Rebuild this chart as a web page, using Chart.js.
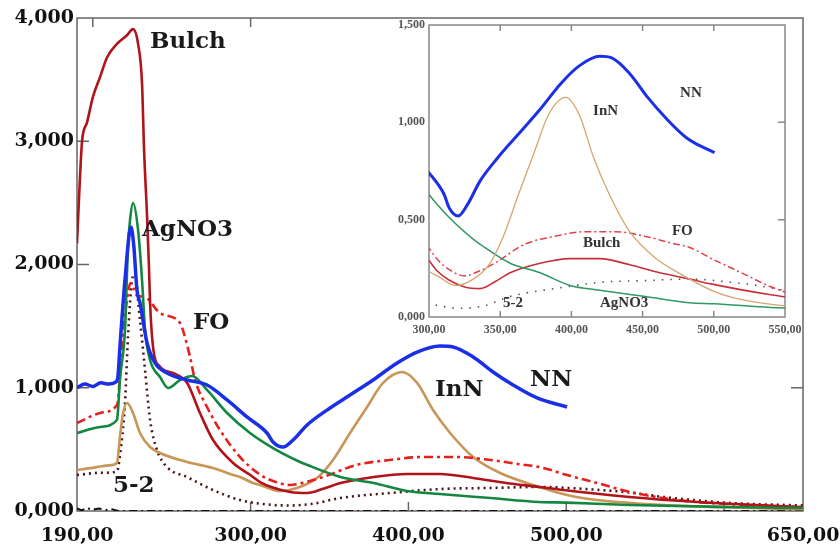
<!DOCTYPE html>
<html><head><meta charset="utf-8">
<script src="https://cdn.jsdelivr.net/npm/chart.js@4.4.1/dist/chart.umd.min.js"></script>
<style>
html,body{margin:0;padding:0;background:#fff;}
#wrap{position:relative;width:840px;height:549px;overflow:hidden;background:#fff;}
#main{position:absolute;left:0;top:0;}
#inset{position:absolute;left:385px;top:18px;}
</style></head><body>
<div id="wrap">
<canvas id="main" width="840" height="549"></canvas>
<canvas id="inset" width="430" height="326"></canvas>
</div>
<script>
// ---- tick values / labels ----
const xTickValues = [190, 300, 400, 500, 650];
const xTickLabels = ['190,00', '300,00', '400,00', '500,00', '650,00'];
const yTickValues = [0, 1000, 2000, 3000, 4000];
const yTickLabels = ['0,000', '1,000', '2,000', '3,000', '4,000'];
const insetXTickValues = [300, 350, 400, 450, 500, 550];
const insetXTickLabels = ['300,00', '350,00', '400,00', '450,00', '500,00', '550,00'];
const insetYTickValues = [0, 500, 1000, 1500];
const insetYTickLabels = ['0,000', '0,500', '1,000', '1,500'];

// ---- series (wavelength, absorbance x1000) ----
const bulchX = [190, 191.5, 193.2, 196.3, 200.1, 204.6, 209, 215.3, 221.7, 225.5, 228.7, 231.2, 232.5, 234.4, 235.6, 236.3, 238.2, 242.6, 250.8, 259.7, 267.9, 276.2, 288.9, 300, 306, 314, 325, 336, 346, 357, 378, 399, 420, 441, 462, 483, 498, 540, 583, 650];
const bulchY = [2170, 2600, 3000, 3150, 3360, 3520, 3680, 3790, 3860, 3910, 3790, 3470, 2930, 2390, 1980, 1690, 1330, 1170, 1120, 1040, 795, 576, 390, 290, 235, 190, 154, 146, 180, 227, 276, 300, 300, 268, 227, 195, 170, 114, 73, 30];

const agX = [190, 204.6, 215.3, 216, 217.2, 220.4, 222.3, 223.6, 225.5, 228.7, 231.2, 233.1, 236.3, 242.6, 247.7, 255.3, 262.9, 272.4, 285.1, 299.6, 314.2, 331, 336, 357, 378, 399, 420, 452, 483, 500, 540, 604, 650];
const agY = [633, 682, 738, 819, 1063, 1469, 2142, 2360, 2499, 2280, 1874, 1469, 1225, 1087, 998, 1063, 1095, 982, 795, 633, 511, 400, 373, 276, 227, 162, 138, 105, 73, 68, 49, 32, 24];

const nnX = [190, 195, 200, 205, 210, 215, 216, 217.2, 220.4, 224.2, 226, 228, 229.9, 234.4, 239.4, 247, 259.7, 272.4, 285.1, 297.7, 310.4, 314.2, 320.5, 326.9, 335.8, 348.4, 363, 377.6, 392.8, 405.5, 420, 428.3, 441, 453.6, 466.3, 481.5, 500.5];
const nnY = [1000, 1030, 1010, 1040, 1030, 1050, 1100, 1330, 1874, 2304, 2150, 1793, 1688, 1363, 1201, 1120, 1063, 1022, 901, 763, 633, 560, 519, 576, 698, 819, 941, 1063, 1201, 1290, 1339, 1331, 1250, 1128, 1022, 917, 844];

const foX = [190, 204.6, 215.3, 216, 218, 221, 224, 226, 228, 233.1, 242.6, 255.3, 258.4, 261.6, 264.8, 272.4, 280.6, 293.3, 306, 315, 325, 335, 346, 367, 388, 409, 431, 452, 470, 483, 500.5, 519.5, 540.4, 561.4, 582.9, 614.6, 650];
const foY = [714, 795, 860, 900, 1250, 1650, 1850, 1800, 1750, 1736, 1606, 1525, 1412, 1250, 1063, 844, 657, 438, 295, 240, 211, 235, 276, 373, 414, 438, 438, 414, 380, 357, 292, 227, 154, 105, 73, 49, 30];

const innX = [190, 200, 210, 215.3, 217.2, 219, 221.7, 225.5, 229.9, 236.3, 242.6, 259.7, 276.2, 288.9, 293.3, 301.5, 306, 318.6, 329.4, 342.1, 352.2, 363, 373.8, 383.9, 396, 405.5, 415.6, 426.4, 441, 458.1, 479, 500.5, 519.5, 561.4, 600, 650];
const innY = [333, 350, 370, 390, 600, 780, 876, 795, 633, 519, 471, 398, 349, 292, 276, 227, 211, 162, 187, 268, 414, 633, 844, 1039, 1128, 1039, 819, 633, 438, 308, 211, 130, 89, 49, 30, 15];

const fiveX = [190, 205, 215.3, 217.2, 220.4, 222.3, 224.9, 226.5, 229.9, 233.1, 236.3, 240.7, 247, 259.7, 276.2, 293.3, 314.2, 325, 340, 356.7, 388.4, 420, 451.7, 483.4, 510, 540.4, 561.4, 603.8, 650];
const fiveY = [292, 310, 320, 450, 876, 1412, 1874, 1920, 1550, 1144, 738, 495, 357, 276, 170, 89, 49, 45, 60, 105, 146, 178, 187, 195, 180, 150, 114, 65, 45];

const baseX = [190, 193, 196, 200, 204, 208, 212, 216, 650];
const baseY = [20, 5, 25, 10, 20, 8, 15, 0, 0];

// ---- label texts ----
const mainNotes = [
  {text: 'Bulch', x: 236.3, y: 3757},
  {text: 'AgNO3', x: 231.2, y: 2231},
  {text: 'FO', x: 263.5, y: 1477},
  {text: '5-2', x: 212.8, y: 154},
  {text: 'InN', x: 416.9, y: 933},
  {text: 'NN', x: 477.1, y: 1014}
];
const insetNotes = [
  {text: 'NN', x: 476.3, y: 1130},
  {text: 'InN', x: 415.2, y: 1037},
  {text: 'FO', x: 470.6, y: 421},
  {text: 'Bulch', x: 408.1, y: 360},
  {text: '5-2', x: 352, y: 51},
  {text: 'AgNO3', x: 420.1, y: 51}
];

const pts = (xs, ys) => xs.map((x, i) => ({x: x, y: ys[i]}));
function ds(label, xs, ys, st) {
  return Object.assign({label: label, data: pts(xs, ys), fill: false, pointRadius: 0,
    cubicInterpolationMode: 'monotone', borderJoinStyle: 'round'}, st);
}

const framePlugin = {
  id: 'frame',
  beforeDatasetsDraw(chart, args, o) {
    const {ctx, chartArea: a, scales} = chart;
    ctx.save();
    ctx.strokeStyle = o.color; ctx.lineWidth = o.width;
    ctx.strokeRect(a.left, a.top, a.right - a.left, a.bottom - a.top);
    ctx.beginPath();
    (o.bottom || []).forEach(v => { const p = scales.x.getPixelForValue(v); ctx.moveTo(p, a.bottom); ctx.lineTo(p, a.bottom - o.lenX); });
    (o.top || []).forEach(v => { const p = scales.x.getPixelForValue(v); ctx.moveTo(p, a.top); ctx.lineTo(p, a.top + o.lenX); });
    (o.left || []).forEach(v => { const p = scales.y.getPixelForValue(v); ctx.moveTo(a.left, p); ctx.lineTo(a.left + o.lenY, p); });
    (o.right || []).forEach(v => { const p = scales.y.getPixelForValue(v); ctx.moveTo(a.right, p); ctx.lineTo(a.right - o.lenY, p); });
    ctx.stroke();
    ctx.restore();
  }
};
const notePlugin = {
  id: 'notes',
  afterDatasetsDraw(chart, args, o) {
    const {ctx, scales} = chart;
    ctx.save();
    ctx.font = o.font; ctx.fillStyle = o.color;
    ctx.textAlign = 'left'; ctx.textBaseline = 'alphabetic';
    o.items.forEach(n => ctx.fillText(n.text, scales.x.getPixelForValue(n.x), scales.y.getPixelForValue(n.y)));
    ctx.restore();
  }
};

function noPad(s) { s.paddingLeft = 0; s.paddingRight = 0; s.paddingTop = 0; s.paddingBottom = 0; }

function makeScales(xmin, xmax, ymin, ymax, xv, xl, yv, yl, xh, yw, xpad, ypad, font, color) {
  return {
    x: {type: 'linear', min: xmin, max: xmax,
      afterBuildTicks: s => { s.ticks = xv.map(v => ({value: v})); },
      afterFit: s => { s.height = xh; noPad(s); },
      grid: {display: false, drawTicks: false}, border: {display: false},
      ticks: {autoSkip: false, maxRotation: 0, minRotation: 0, padding: xpad, color: color, font: font,
        callback: v => xl[xv.indexOf(v)]}},
    y: {type: 'linear', min: ymin, max: ymax,
      afterBuildTicks: s => { s.ticks = yv.map(v => ({value: v})); },
      afterFit: s => { s.width = yw; noPad(s); },
      grid: {display: false, drawTicks: false}, border: {display: false},
      ticks: {padding: ypad, color: color, font: font,
        callback: v => yl[yv.indexOf(v)]}}
  };
}

new Chart(document.getElementById('main'), {
  type: 'line',
  data: {datasets: [
    ds('NN', nnX, nnY, {borderColor: '#1b2fe6', borderWidth: 3.5}),
    ds('AgNO3', agX, agY, {borderColor: '#13873f', borderWidth: 2.6}),
    ds('Bulch', bulchX, bulchY, {borderColor: '#b0141a', borderWidth: 2.6}),
    ds('FO', foX, foY, {borderColor: '#e5211d', borderWidth: 2.6, borderDash: [9, 4, 3, 4]}),
    ds('InN', innX, innY, {borderColor: '#c99558', borderWidth: 2.6}),
    ds('5-2', fiveX, fiveY, {borderColor: '#4a1212', borderWidth: 2.6, borderDash: [2, 4]}),
    ds('base', baseX, baseY, {borderColor: '#111', borderWidth: 2, borderDash: [8, 4, 2, 4], cubicInterpolationMode: 'default', tension: 0})
  ]},
  options: {
    responsive: false, animation: false, devicePixelRatio: 1,
    layout: {padding: {left: 0, right: 37, top: 18, bottom: 0}},
    plugins: {legend: {display: false}, tooltip: {enabled: false},
      frame: {color: '#666', width: 1.5, lenX: 9, lenY: 12, bottom: [300, 400, 500, 600], top: [200, 300], left: [1000, 2000, 3000], right: [1000]},
      notes: {font: 'bold 23px "DejaVu Serif"', color: '#1a1a1a', items: mainNotes}},
    scales: makeScales(190, 650, 0, 4000, xTickValues, xTickLabels, yTickValues, yTickLabels, 38, 77, 14, 3,
      {family: 'DejaVu Serif', weight: 'bold', size: 19}, '#111')
  },
  plugins: [framePlugin, notePlugin]
});

new Chart(document.getElementById('inset'), {
  type: 'line',
  data: {datasets: [
    ds('NN', nnX, nnY, {borderColor: '#1b2fe6', borderWidth: 3}),
    ds('InN', innX, innY, {borderColor: '#d6a46e', borderWidth: 1.3}),
    ds('AgNO3', agX, agY, {borderColor: '#2d9a62', borderWidth: 1.5}),
    ds('Bulch', bulchX, bulchY, {borderColor: '#c7303a', borderWidth: 1.6}),
    ds('FO', foX, foY, {borderColor: '#e2404a', borderWidth: 1.5, borderDash: [7, 3, 2, 3]}),
    ds('5-2', fiveX, fiveY, {borderColor: '#6a4a4a', borderWidth: 1.6, borderDash: [1.5, 7]})
  ]},
  options: {
    responsive: false, animation: false, devicePixelRatio: 1,
    layout: {padding: {left: 0, right: 30, top: 7, bottom: 0}},
    plugins: {legend: {display: false}, tooltip: {enabled: false},
      frame: {color: '#888', width: 1.5, lenX: 6, lenY: 7, bottom: [350, 400, 450, 500], top: [350, 400, 450, 500], right: [500, 1000]},
      notes: {font: 'bold 15px "Liberation Serif"', color: '#333', items: insetNotes}},
    scales: makeScales(300, 550, 0, 1500, insetXTickValues, insetXTickLabels, insetYTickValues, insetYTickLabels, 27, 44, 6, 4,
      {family: 'Liberation Serif', weight: 'bold', size: 12}, '#555')
  },
  plugins: [framePlugin, notePlugin]
});
</script>
</body></html>
